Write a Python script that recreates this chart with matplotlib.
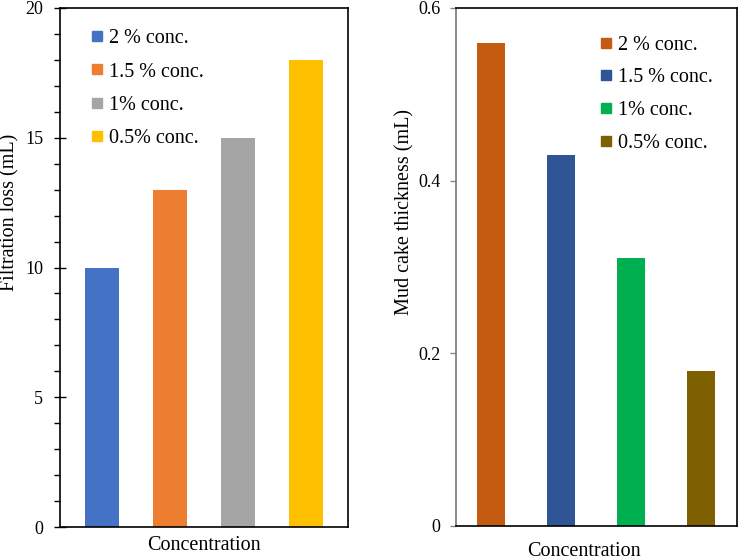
import matplotlib
matplotlib.use("Agg")
import matplotlib.pyplot as plt
from matplotlib.lines import Line2D
from matplotlib.ticker import MultipleLocator

plt.rcParams['font.family'] = ['Liberation Serif', 'DejaVu Serif']

labels_left = ["2 % conc.", "1.5 % conc.", "1% conc.", "0.5% conc."]
filtration_loss = [10, 13, 15, 18]
colors_left = ["#4472C4", "#ED7D31", "#A5A5A5", "#FFC000"]

labels_right = ["2 % conc.", "1.5 % conc.", "1% conc.", "0.5% conc."]
cake_thickness = [0.56, 0.43, 0.31, 0.18]
colors_right = ["#C55A11", "#2F5597", "#00B050", "#7F6000"]

left_ticks = [0, 5, 10, 15, 20]
right_ticks = [0, 0.2, 0.4, 0.6]
right_ticklabels = ["0", "0.2", "0.4", "0.6"]

fig = plt.figure(figsize=(7.38, 5.6), dpi=100)
ax1 = fig.add_axes([60/738, 1-527/560, (348-60)/738, (527-8)/560])
ax2 = fig.add_axes([456/738, 1-526/560, (737-456)/738, (526-8)/560])

x = range(len(filtration_loss))
ax1.bar(x, filtration_loss, width=0.5, color=colors_left)
ax1.set_xlim(-0.62, 3.62)
ax1.set_ylim(0, 20)
ax1.set_yticks(left_ticks)
ax1.yaxis.set_minor_locator(MultipleLocator(1))
ax1.tick_params(axis='y', which='major', direction='inout', length=8, width=1, labelsize=13, pad=8)
ax1.tick_params(axis='y', which='minor', direction='out', length=4, width=1)
ax1.set_xticks([])
for s in ax1.spines.values():
    s.set_linewidth(1.2)
    s.set_color('black')
ax1.set_ylabel("Filtration loss (mL)", fontsize=14.5)
ax1.yaxis.set_label_coords(-0.139, 0.607)
ax1.set_xlabel("Concentration", fontsize=14.5)
ax1.xaxis.set_label_coords(0.5, -0.018)
ax1.xaxis.label.set_va('top')
h1 = [Line2D([], [], marker='s', linestyle='none', markersize=7.5, color=c) for c in colors_left]
ax1.legend(h1, labels_left, loc='upper left', bbox_to_anchor=(0.075, 0.975), frameon=False,
           fontsize=14.5, handlelength=0.7, handletextpad=0.25, labelspacing=0.71, borderaxespad=0)

x2 = range(len(cake_thickness))
ax2.bar(x2, cake_thickness, width=0.4, color=colors_right)
ax2.set_xlim(-0.5, 3.52)
ax2.set_ylim(0, 0.6)
ax2.set_yticks(right_ticks)
ax2.set_yticklabels(right_ticklabels)
ax2.tick_params(axis='y', which='major', direction='out', length=4, width=1, labelsize=13, pad=7, color='#888888')
ax2.set_xticks([])
for s in ax2.spines.values():
    s.set_linewidth(1.2)
    s.set_color('black')
ax2.spines['left'].set_color('#777777')
ax2.set_ylabel("Mud cake thickness (mL)", fontsize=14.5)
ax2.yaxis.set_label_coords(-0.146, 0.606)
ax2.set_xlabel("Concentration", fontsize=14.5)
ax2.xaxis.set_label_coords(0.456, -0.03)
ax2.xaxis.label.set_va('top')
h2 = [Line2D([], [], marker='s', linestyle='none', markersize=7.5, color=c) for c in colors_right]
ax2.legend(h2, labels_right, loc='upper left', bbox_to_anchor=(0.479, 0.962), frameon=False,
           fontsize=14.5, handlelength=0.7, handletextpad=0.25, labelspacing=0.67, borderaxespad=0)

fig.savefig("out.png", dpi=100)
